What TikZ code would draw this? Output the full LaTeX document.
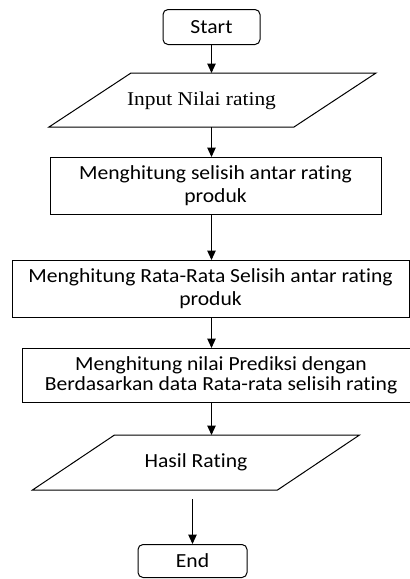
\documentclass[tikz,border=0pt]{standalone}
\usepackage{fontspec}
\setmainfont{Carlito}[FakeStretch=1.08, Ligatures=NoCommon]
\newfontfamily\seriffont{Liberation Serif}[FakeStretch=1.1]
\usepackage{tikz}
\usetikzlibrary{arrows.meta,positioning}

\newcommand{\boxfont}{\fontsize{20}{23}\selectfont}

\begin{document}
\begin{tikzpicture}[
  x=1pt, y=1pt,
  line width=1pt,
  term/.style={draw, rounded corners=5pt, minimum width=97pt, minimum height=35pt,
               inner sep=0pt, font=\boxfont},
  io/.style={minimum width=244pt, minimum height=53pt, inner sep=0pt, font=\boxfont},
  proc/.style={draw, minimum height=57pt, inner sep=0pt, align=center, font=\boxfont},
  arr/.style={-{Triangle[length=9.5pt, width=8.5pt]}, line width=1.1pt},
  node distance=30pt
]
  \useasboundingbox (0,0) rectangle (410,-579);

  % Start dan input
  \node[term] (start) at (211.5,-27) {Start};
  \node[io, below=28pt of start, xshift=1pt,
        label={[font=\seriffont\fontsize{19.5}{22}\selectfont, xshift=-11pt, yshift=-1pt]center:Input Nilai rating}]
        (input) {};

  % Proses perhitungan
  \node[proc, below=30pt of input, xshift=3pt, minimum width=331pt] (selisih)
    {Menghitung selisih antar rating\\produk};
  \node[proc, below=45pt of selisih, xshift=-5pt, minimum width=397pt] (rata)
    {Menghitung Rata-Rata Selisih antar rating\\produk};
  \node[proc, below=30pt of rata, xshift=10.5pt, minimum width=398pt, minimum height=54pt,
        font=\fontsize{20}{20.5}\selectfont] (prediksi)
    {Menghitung nilai Prediksi dengan\\Berdasarkan data Rata-rata selisih rating};

  % Output dan akhir
  \node[io, below=32pt of prediksi, xshift=-25pt, minimum height=54pt] (hasil)
    {Hasil Rating};
  \node[term, below=54pt of hasil, xshift=-3.5pt, minimum width=109pt, minimum height=33pt] (stop)
    {End};

  % Jajaran genjang input/output
  \foreach \n in {input,hasil}
    \draw ([xshift=41pt]\n.north west) -- ([xshift=41pt]\n.north east)
      -- ([xshift=-41pt]\n.south east) -- ([xshift=-41pt]\n.south west) -- cycle;

  % Arrows
  \draw[arr] (start) -- (start |- input.north);
  \draw[arr] (start |- input.south) -- (start |- selisih.north);
  \draw[arr] (start |- selisih.south) -- (start |- rata.north);
  \draw[arr] (start |- rata.south) -- (start |- prediksi.north);
  \draw[arr] (start |- prediksi.south) -- (start |- hasil.north);
  \draw[arr, shorten <=9pt] (stop |- hasil.south) -- (stop);
\end{tikzpicture}
\end{document}
